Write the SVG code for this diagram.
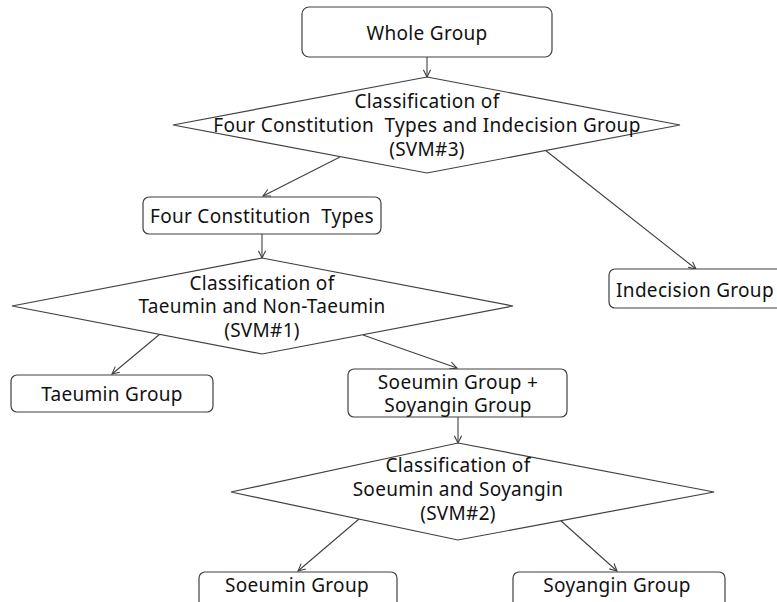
<svg xmlns="http://www.w3.org/2000/svg" width="777" height="602" viewBox="0 0 777 602">
<defs>
<style>
.box{fill:#fff;stroke:#404040;stroke-width:1.2}
.dia{fill:#fff;stroke:#404040;stroke-width:1.2}
.t{font-family:"Noto Sans","Open Sans",sans-serif;font-size:19px;letter-spacing:0.3px;fill:#111;text-anchor:middle}
.c{stroke:#404040;stroke-width:1.1;fill:none;marker-end:url(#ah)}
</style>
<marker id="ah" viewBox="0 0 10 10" refX="9" refY="5" markerWidth="9" markerHeight="9" markerUnits="userSpaceOnUse" orient="auto">
<path d="M1,1 L9,5 L1,9" fill="none" stroke="#404040" stroke-width="1.2"/>
</marker>
</defs>
<rect width="777" height="602" fill="#fff"/>
<g id="connectors">
<line class="c" x1="427" y1="57" x2="427" y2="77"/>
<line class="c" x1="340" y1="157" x2="263" y2="196"/>
<line class="c" x1="545" y1="150" x2="696" y2="269"/>
<line class="c" x1="262" y1="234" x2="262" y2="258"/>
<line class="c" x1="160" y1="334" x2="112" y2="374"/>
<line class="c" x1="363" y1="335" x2="457" y2="368"/>
<line class="c" x1="458" y1="417" x2="458" y2="443"/>
<line class="c" x1="359" y1="519" x2="298" y2="571"/>
<line class="c" x1="560" y1="520" x2="617" y2="571"/>
</g>
<g id="whole">
<rect class="box" x="302" y="7" width="250" height="50" rx="7"/>
<text class="t" x="427" y="40">Whole Group</text>
</g>
<g id="svm3">
<polygon class="dia" points="427,77 680,125 427,173 173,125"/>
<text class="t" x="427" y="108">Classification of</text>
<text class="t" x="427" y="132" xml:space="preserve">Four Constitution  Types and Indecision Group</text>
<text class="t" x="427" y="156">(SVM#3)</text>
</g>
<g id="four">
<rect class="box" x="143" y="197" width="238" height="37" rx="6"/>
<text class="t" x="262" y="223" xml:space="preserve">Four Constitution  Types</text>
</g>
<g id="indecision">
<rect class="box" x="609" y="269" width="175" height="39" rx="6"/>
<text class="t" x="695" y="297">Indecision Group</text>
</g>
<g id="svm1">
<polygon class="dia" points="262,258 513,306 262,354 12,306"/>
<text class="t" x="262" y="290">Classification of</text>
<text class="t" x="262" y="313">Taeumin and Non-Taeumin</text>
<text class="t" x="262" y="337">(SVM#1)</text>
</g>
<g id="taeumin">
<rect class="box" x="11" y="375" width="202" height="37" rx="6"/>
<text class="t" x="112" y="401">Taeumin Group</text>
</g>
<g id="soso">
<rect class="box" x="348" y="369" width="219" height="48" rx="6"/>
<text class="t" x="458" y="389">Soeumin Group +</text>
<text class="t" x="458" y="412">Soyangin Group</text>
</g>
<g id="svm2">
<polygon class="dia" points="458,443 714,492 458,540 231,492"/>
<text class="t" x="458" y="472">Classification of</text>
<text class="t" x="458" y="496">Soeumin and Soyangin</text>
<text class="t" x="458" y="520">(SVM#2)</text>
</g>
<g id="soeumin">
<rect class="box" x="199" y="572" width="198" height="40" rx="6"/>
<text class="t" x="297" y="592">Soeumin Group</text>
</g>
<g id="soyangin">
<rect class="box" x="513" y="572" width="212" height="40" rx="6"/>
<text class="t" x="617" y="592">Soyangin Group</text>
</g>
</svg>
